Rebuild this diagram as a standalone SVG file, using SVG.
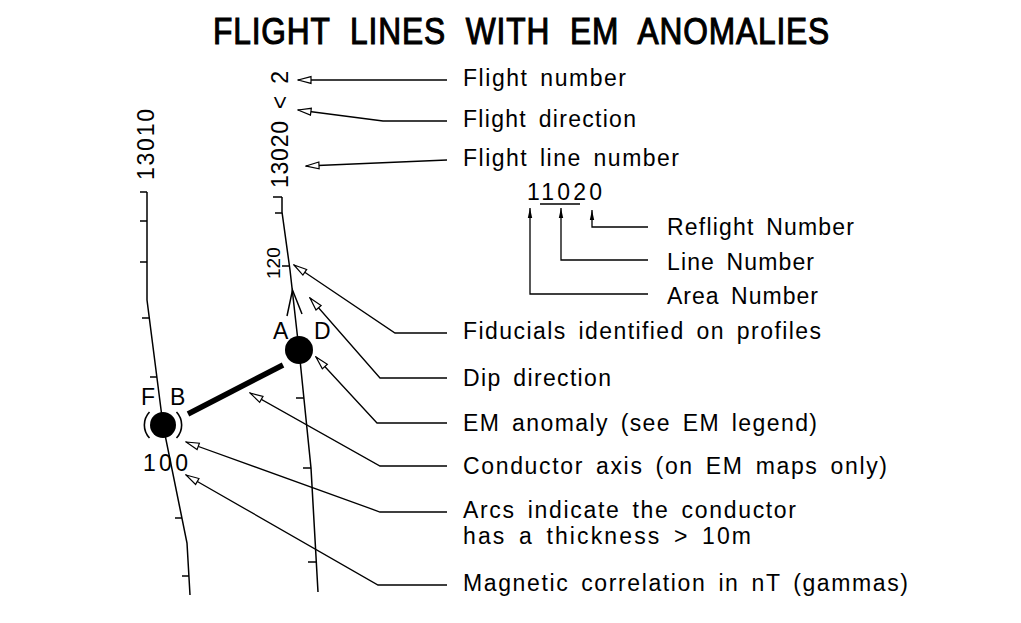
<svg xmlns="http://www.w3.org/2000/svg" width="1021" height="623" viewBox="0 0 1021 623">
<style>
  text { font-family: "Liberation Sans", Arial, sans-serif; font-size: 23px; fill: #000; letter-spacing: 1px; word-spacing: 4px; }
  .title { font-size: 37px; stroke: #000; stroke-width: 1.1px; letter-spacing: 1px; word-spacing: 12px; }
  .small { font-size: 19px; letter-spacing: 0; }
  .line { fill: none; stroke: #000; stroke-width: 1.5; }
  .lead { fill: none; stroke: #000; stroke-width: 1.3; marker-start: url(#open); }
  .lead2 { fill: none; stroke: #000; stroke-width: 1.3; marker-start: url(#solid); }
  .tick { stroke: #000; stroke-width: 1.3; fill: none; }
</style>
<defs>
  <marker id="open" markerUnits="userSpaceOnUse" markerWidth="16" markerHeight="10" refX="1" refY="5" orient="auto" viewBox="0 0 16 10">
    <path d="M1,5 L14,1.6 L14,8.4 Z" fill="#fff" stroke="#000" stroke-width="1.2"/>
  </marker>
  <marker id="solid" markerUnits="userSpaceOnUse" markerWidth="12" markerHeight="6" refX="0" refY="3" orient="auto" viewBox="0 0 12 6">
    <path d="M0,3 L10,0.8 L10,5.2 Z" fill="#000"/>
  </marker>
</defs>
<rect width="1021" height="623" fill="#fff"/>

<g id="title">
  <text class="title" x="213" y="44" textLength="617" lengthAdjust="spacingAndGlyphs">FLIGHT LINES WITH EM ANOMALIES</text>
</g>

<g id="flightline-13010">
  <polyline class="line" points="147,192 147,300 163,425 187,543 190,595"/>
  <path class="tick" d="M140,192H147 M140,221H147 M140,262H147 M142,318H149 M150,377H157 M175,518H182 M182,576H189"/>
  <text transform="translate(154,180) rotate(-90)" textLength="72" lengthAdjust="spacing">13010</text>
</g>

<g id="flightline-13020">
  <polyline class="line" points="282,197 282,212 290,270 299,350 311,468 318,592"/>
  <path class="tick" d="M273,197H282 M275,213H282 M282,266H289 M296,398H304 M303,468H311 M308,562H316"/>
  <text transform="translate(288,188) rotate(-90)" textLength="118" lengthAdjust="spacing">13020 &lt; 2</text>
  <text class="small" transform="translate(280,279) rotate(-90)">120</text>
</g>

<g id="dip-direction">
  <polyline class="line" points="287,316 292.5,290 302,314"/>
</g>

<g id="anomaly-AD">
  <circle cx="299" cy="350" r="14" fill="#000"/>
  <text x="273" y="339">A</text>
  <text x="314" y="339">D</text>
</g>

<g id="anomaly-FB">
  <circle cx="163" cy="425" r="13" fill="#000"/>
  <path d="M149.5,412 A19,19 0 0 0 149.5,438 M176.5,412 A19,19 0 0 1 176.5,438" fill="none" stroke="#000" stroke-width="1.6"/>
  <text x="141" y="405">F</text>
  <text x="170" y="405">B</text>
  <text x="143" y="471" textLength="46" lengthAdjust="spacing">100</text>
</g>

<g id="conductor-axis">
  <line x1="188" y1="414" x2="283" y2="365" stroke="#000" stroke-width="5.5"/>
</g>

<g id="connectors">
  <polyline class="lead" points="298,80 447,80"/>
  <polyline class="lead" points="298,110 383,121 447,121"/>
  <polyline class="lead" points="306,166 447,160"/>
  <polyline class="lead" points="294,265 395,333 447,333"/>
  <polyline class="lead" points="310,298 380,378 447,378"/>
  <polyline class="lead" points="316,357 377,423 447,423"/>
  <polyline class="lead" points="250,393 380,466 447,466"/>
  <polyline class="lead" points="186,442 380,512 447,512"/>
  <polyline class="lead" points="186,475 378,585 447,585"/>
  <polyline class="lead2" points="530,208 530,294 648,294"/>
  <polyline class="lead2" points="561,208 561,260 648,260"/>
  <polyline class="lead2" points="592,210 592,227 648,227"/>
</g>

<g id="flight-number-code">
  <text x="527" y="200" textLength="76" lengthAdjust="spacing">11020</text>
  <line x1="540" y1="204" x2="580" y2="204" stroke="#000" stroke-width="1.3"/>
</g>

<g id="labels">
  <text x="463" y="86" textLength="164" lengthAdjust="spacing">Flight number</text>
  <text x="463" y="127" textLength="174" lengthAdjust="spacing">Flight direction</text>
  <text x="463" y="166" textLength="217" lengthAdjust="spacing">Flight line number</text>
  <text x="667" y="235" textLength="188" lengthAdjust="spacing">Reflight Number</text>
  <text x="667" y="270" textLength="148" lengthAdjust="spacing">Line Number</text>
  <text x="667" y="304" textLength="152" lengthAdjust="spacing">Area Number</text>
  <text x="463" y="339" textLength="359" lengthAdjust="spacing">Fiducials identified on profiles</text>
  <text x="463" y="386" textLength="149" lengthAdjust="spacing">Dip direction</text>
  <text x="463" y="431" textLength="355" lengthAdjust="spacing">EM anomaly (see EM legend)</text>
  <text x="463" y="474" textLength="425" lengthAdjust="spacing">Conductor axis (on EM maps only)</text>
  <text x="463" y="518" textLength="334" lengthAdjust="spacing">Arcs indicate the conductor</text>
  <text x="463" y="544" textLength="289" lengthAdjust="spacing">has a thickness &gt; 10m</text>
  <text x="463" y="591" textLength="446" lengthAdjust="spacing">Magnetic correlation in nT (gammas)</text>
</g>
</svg>
